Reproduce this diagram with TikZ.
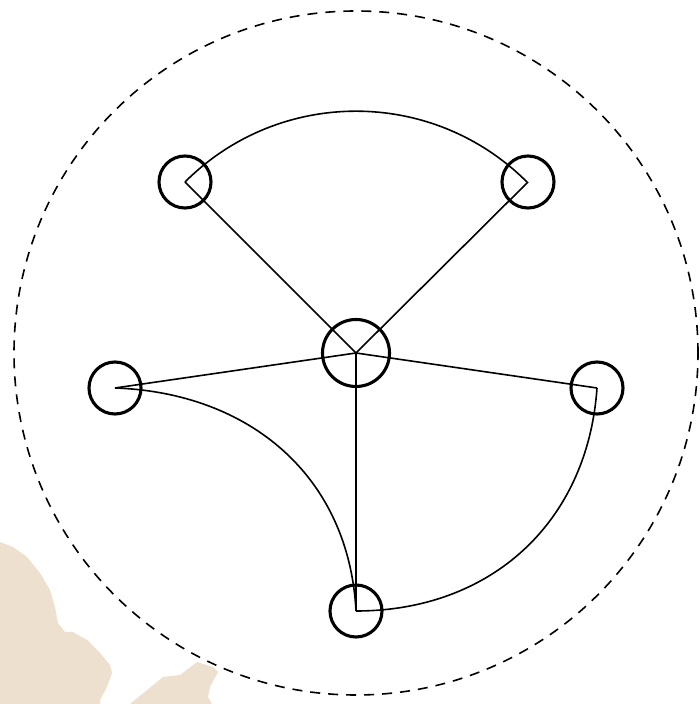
\documentclass[tikz,border=0pt]{standalone}
\definecolor{beige}{HTML}{EDE0CF}
\tikzset{
  vtx/.style={circle,draw=black,line width=3.1pt,inner sep=0pt,minimum size=52pt},
  hub/.style={vtx,minimum size=67pt},
  edge/.style={draw=black,line width=1.6pt},
  bound/.style={draw=black,line width=1.6pt,dash pattern=on 10pt off 8pt}
}
\begin{document}
\begin{tikzpicture}[x=1pt,y=1pt]
\useasboundingbox (0,0) rectangle (699,704);
% background land shapes
\fill[beige] (0,162) -- (13,157) -- (27,147) -- (40,131) -- (50,114) -- (55,97) -- (58,81) -- (65,72) -- (73,72) -- (87,64) -- (100,51) -- (110,39) -- (112,31) -- (107,17) -- (100,4) -- (100,0) -- (0,0) -- cycle;
\fill[beige] (130,0) -- (163,27) -- (180,29) -- (193,39) -- (197,42) -- (213,37) -- (218,32) -- (210,17) -- (208,7) -- (212,0) -- cycle;
% nodes
\node[hub] (c) at (356,351) {};
\node[vtx] (tl) at (185,522) {};
\node[vtx] (tr) at (528,522) {};
\node[vtx] (l) at (115,316) {};
\node[vtx] (r) at (597,316) {};
\node[vtx] (b) at (356,93) {};
% boundary
\draw[bound] (c.center) circle[radius=342];
% edges
\draw[edge] (c.center) -- (tl.center);
\draw[edge] (c.center) -- (tr.center);
\draw[edge] (c.center) -- (l.center);
\draw[edge] (c.center) -- (r.center);
\draw[edge] (c.center) -- (b.center);
\draw[edge] (tl.center) arc[start angle=135,end angle=45,radius=241.8];
\draw[edge] (l.center) to[out=-2,in=93,looseness=1.05] (b.center);
\draw[edge] (r.center) to[out=-94,in=0,looseness=1.05] (b.center);
\end{tikzpicture}
\end{document}
